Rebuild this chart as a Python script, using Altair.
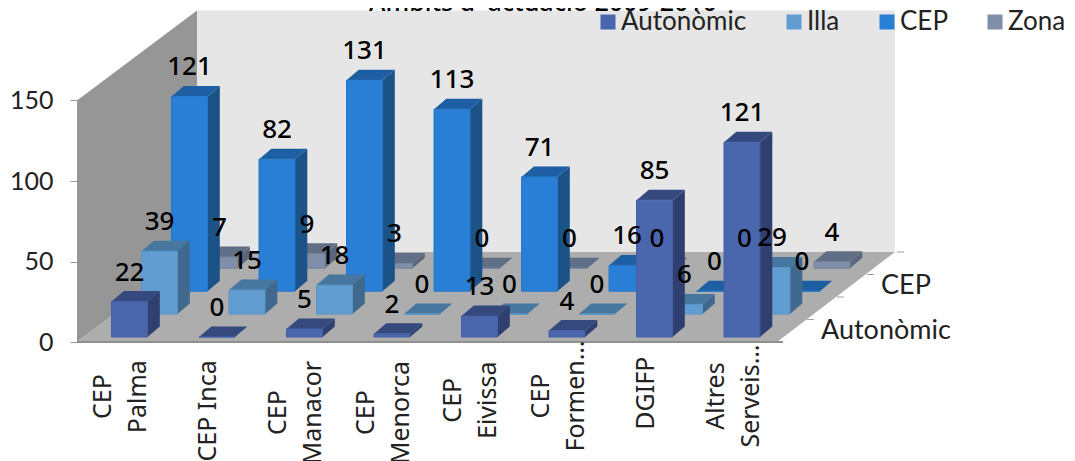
import altair as alt
import pandas as pd

title_text = "Àmbits d' actuació 2009-2010"
categories = ["CEP\nPalma", "CEP Inca", "CEP\nManacor", "CEP\nMenorca", "CEP\nEivissa", "CEP\nFormen…", "DGIFP", "Altres\nServeis…"]
series = ["Autonòmic", "Illa", "CEP", "Zona"]
autonomic = [22, 0, 5, 2, 13, 4, 85, 121]
illa = [39, 15, 18, 0, 0, 0, 6, 29]
cep = [121, 82, 131, 113, 71, 16, 0, 0]
zona = [7, 9, 3, 0, 0, 0, 0, 4]
values = [autonomic, illa, cep, zona]

front_colors = ["#4a66ac", "#629dd1", "#297fd5", "#7f8fa9"]
side_colors = ["#2f3f6f", "#41698e", "#1b5288", "#5a667c"]
top_colors = ["#36497f", "#47779f", "#1e5fa3", "#606e86"]
stroke_colors = ["#4560a4", "#5b94c6", "#2777c8", "#77879f"]

# 3-D projection: pixels per unit on the two scales, and the oblique shift of the depth axis
PX_CAT = 87.5
PX_VAL = 1.61
PLOT_W = 825
PLOT_H = 332
SER_DX, SER_DY = 30 / PX_CAT, 22.9 / PX_VAL
BAR_W = 36 / PX_CAT
BAR_DX, BAR_DY = 12.3 / PX_CAT, 10.5 / PX_VAL
X0, Y0 = 34.5 / PX_CAT, 5 / PX_VAL
WALL_DX, WALL_DY = 120 / PX_CAT, 90 / PX_VAL

xs = alt.Scale(domain=[0, PLOT_W / PX_CAT], nice=False, zero=False)
ys = alt.Scale(domain=[0, PLOT_H / PX_VAL], nice=False, zero=False)
y_axis = alt.Axis(values=[0, 50, 100, 150], domain=False, grid=False, ticks=True, tickColor="#9a9a9a", tickSize=7,
                  labelFont="Lato", labelFontSize=25, labelColor="#222222", labelPadding=17, title=None)
X = lambda f="x": alt.X(f"{f}:Q", scale=xs, axis=None)
Y = lambda f="y": alt.Y(f"{f}:Q", scale=ys, axis=y_axis)
color_scale = alt.Scale(domain=series, range=front_colors)

# walls and floor
back = alt.Chart(pd.DataFrame({"x": [WALL_DX], "x2": [WALL_DX + 698 / PX_CAT], "y": [WALL_DY], "y2": [150 + WALL_DY]})).mark_rect(color="#e6e6e6").encode(
    x=X(), x2="x2", y=Y(), y2="y2")
left = alt.Chart(pd.DataFrame({"x": [0, WALL_DX], "y": [0, WALL_DY], "y2": [150, 150 + WALL_DY]})).mark_area(color="#969696").encode(
    x=X(), y=Y(), y2="y2")
floor = alt.Chart(pd.DataFrame({"y": [0, WALL_DY], "x": [0, WALL_DX], "x2": [700 / PX_CAT, 818 / PX_CAT]})).mark_area(color="#adadad", orient="horizontal").encode(
    x=X(), x2="x2", y=Y())
front_line = alt.Chart(pd.DataFrame({"x": [0], "x2": [706 / PX_CAT], "y": [0]})).mark_rule(color="#8f8f8f", strokeWidth=2).encode(
    x=X(), x2="x2", y=Y())
tick_rows = [{"x": 700 / PX_CAT + k * WALL_DX / 4, "x2": 707 / PX_CAT + k * WALL_DX / 4, "y": k * WALL_DY / 4} for k in range(1, 5)]
depth_ticks = alt.Chart(pd.DataFrame(tick_rows)).mark_rule(color="#a0a0a0", strokeWidth=1).encode(x=X(), x2="x2", y=Y())

depth_labels = alt.Chart(pd.DataFrame([
    {"t": series[s], "x": 700 / PX_CAT + (s + 0.5) * WALL_DX / 4, "y": (s + 0.5) * WALL_DY / 4} for s in (0, 2)
])).mark_text(font="Lato", fontSize=27, color="#222222", align="left", baseline="middle", dx=29).encode(x=X(), y=Y(), text="t:N")

# bars, painted from the back row to the front row
bar_layers = []
label_rows = []
for s in [3, 2, 1, 0]:
    fr, si, to = [], [], []
    for i, v in enumerate(values[s]):
        xl = X0 + i + s * SER_DX
        xr = xl + BAR_W
        base = Y0 + s * SER_DY
        top = base + v
        fr.append({"x": xl, "x2": xr, "y": base, "y2": top, "serie": series[s]})
        si += [{"x": xr, "y": base, "y2": top, "bar": i}, {"x": xr + BAR_DX, "y": base + BAR_DY, "y2": top + BAR_DY, "bar": i}]
        to += [{"y": top, "x": xl, "x2": xr, "bar": i}, {"y": top + BAR_DY, "x": xl + BAR_DX, "x2": xr + BAR_DX, "bar": i}]
        label_rows.append({"x": (xl + xr) / 2, "y": top, "t": str(v)})
    bar_layers.append(alt.Chart(pd.DataFrame(si)).mark_area(color=side_colors[s]).encode(x=X(), y=Y(), y2="y2", detail="bar:N"))
    bar_layers.append(alt.Chart(pd.DataFrame(to)).mark_area(color=top_colors[s], orient="horizontal").encode(x=X(), x2="x2", y=Y(), detail="bar:N"))
    bar_layers.append(alt.Chart(pd.DataFrame(fr)).mark_rect(stroke=stroke_colors[s], strokeWidth=1).encode(
        x=X(), x2="x2", y=Y(), y2="y2",
        fill=alt.Fill("serie:N", scale=color_scale, legend=alt.Legend(
            orient="none", legendX=518, legendY=-1, direction="horizontal", columns=4, title=None,
            symbolType="square", symbolSize=225, symbolStrokeWidth=0, labelFont="Lato", labelFontSize=26,
            labelColor="#222222", labelOffset=0, columnPadding=34))))

value_labels = alt.Chart(pd.DataFrame(label_rows)).mark_text(font="Noto Sans", fontSize=26, fontWeight=500, color="#000000", baseline="middle", dy=-29).encode(
    x=X(), y=Y(), text="t:N")

# category labels, rotated, each block hanging just under the floor
CAT_SIZE = 25
LINE_PX = 35
NARROW = {"i": 0.26, "l": 0.26, "I": 0.33, "t": 0.36, "r": 0.41, "f": 0.34, "s": 0.48, "m": 0.93, "M": 0.9, " ": 0.26}
def text_px(line):
    return CAT_SIZE * sum(NARROW.get(c, 0.58) for c in line)
cat_rows = []
for i, c in enumerate(categories):
    lines = c.split("\n")
    # truncated labels reach up past the floor edge with their ellipsis
    mid_px = 54 if "…" in c else 18 + max(text_px(l) for l in lines) / 2
    cat_rows.append({"x": i + 0.5 - (len(lines) - 1) * LINE_PX / 2 / PX_CAT, "y": -mid_px / PX_VAL, "t": c})
cat_labels = alt.Chart(pd.DataFrame(cat_rows)).mark_text(
    font="Noto Sans", fontSize=CAT_SIZE, color="#222222", angle=270, align="center", baseline="middle", lineBreak="\n", lineHeight=LINE_PX
).encode(x=X(), y=Y(), text="t:N")

# the title sits against the top edge and is cut by it, as in the source picture
title_mark = alt.Chart(pd.DataFrame({"x": [466 / PX_CAT], "y": [331 / PX_VAL], "t": [title_text]})).mark_text(
    font="Noto Sans", fontSize=25, fontWeight=500, color="#000000", baseline="alphabetic", align="center"
).encode(x=X(), y=Y(), text="t:N")

chart = alt.layer(back, left, floor, front_line, depth_ticks, *bar_layers, depth_labels, value_labels, cat_labels, title_mark).properties(
    width=PLOT_W, height=PLOT_H,
    autosize=alt.AutoSizeParams(type="none"),
    padding={"left": 69, "top": 2, "right": 165, "bottom": 119},
).configure_view(stroke=None)

chart.save("out.html", embed_options={"renderer": "svg", "actions": False})
